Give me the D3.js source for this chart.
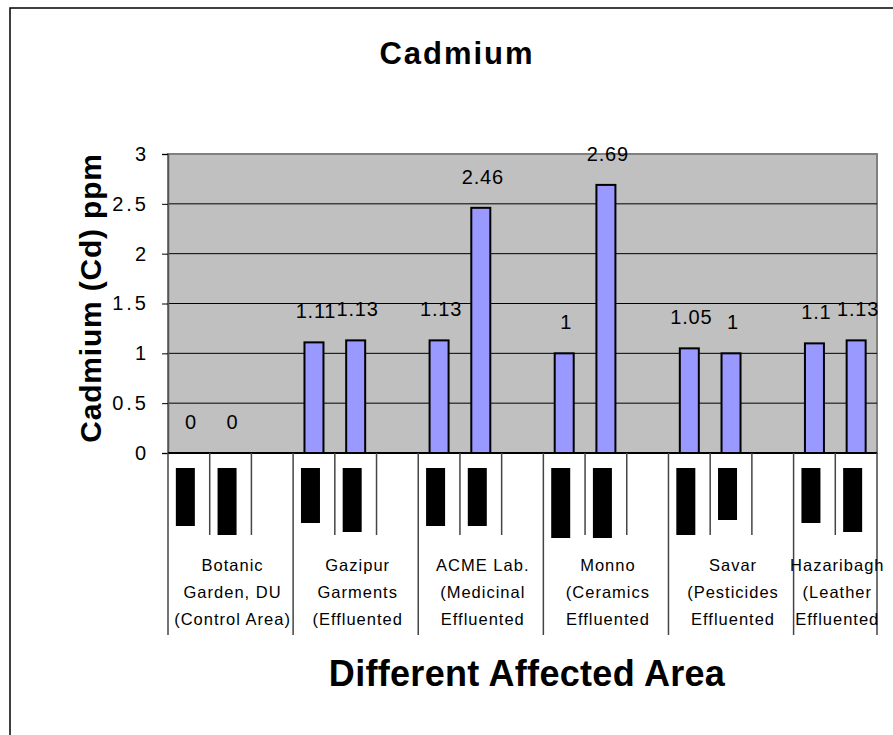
<!DOCTYPE html>
<html>
<head>
<meta charset="utf-8">
<script src="https://cdn.jsdelivr.net/npm/d3@7"></script>
<style>
  body { margin: 0; background: #fff; }
  text { font-family: Arial, "Liberation Sans", sans-serif; }
</style>
</head>
<body>
<script>
'use strict';
// cadmium chart, excel style with grouped category axis

// one slot per category position (the empty slot separates groups)
const slots = d3.range(17);
const values = [0, 0, null, 1.11, 1.13, null, 1.13, 2.46, null, 1, 2.69, null, 1.05, 1, null, 1.1, 1.13];
const groupLines = [
    ["Botanic", "Garden, DU", "(Control Area)"],
    ["Gazipur", "Garments", "(Effluented"],
    ["ACME Lab.", "(Medicinal", "Effluented"],
    ["Monno", "(Ceramics", "Effluented"],
    ["Savar", "(Pesticides", "Effluented"],
    ["Hazaribagh", "(Leather", "Effluented"]
];
const groupStart = [0, 3, 6, 9, 12, 15];
const groupEnd = [3, 6, 9, 12, 15, 17];
// inner labels show up as solid blocks; their lengths in px
const innerLabelLen = [58, 67, null, 55, 64, null, 58, 58, null, 70, 70, null, 67, 52, null, 55, 64];
const yTicks = [0, 0.5, 1, 1.5, 2, 2.5, 3];

window.onload = function() {
    let svg = d3.select('body')
        .append('svg')
        .attr('width', 893)
        .attr('height', 735);

    // outer chart border (runs past the window on right/bottom)
    svg.append('rect')
        .attr('x', 10).attr('y', 8)
        .attr('width', 1000).attr('height', 1000)
        .attr('fill', 'white')
        .attr('stroke', '#000')
        .attr('stroke-width', 1.5);

    let xScale = d3.scaleBand().domain(slots).range([168, 877]);
    let yScale = d3.scaleLinear().domain([0, 3]).range([453, 154]);
    let bw = xScale.bandwidth();

    // plot area
    svg.append('rect')
        .attr('x', 168).attr('y', yScale(3))
        .attr('width', 877 - 168).attr('height', yScale(0) - yScale(3))
        .attr('fill', '#c0c0c0')
        .attr('stroke', '#808080')
        .attr('stroke-width', 2);

    // gridlines
    svg.selectAll('.grid')
        .data(yTicks.filter(d => d > 0 && d < 3))
        .enter()
        .append('line')
        .attr('x1', 168).attr('x2', 877)
        .attr('y1', d => yScale(d)).attr('y2', d => yScale(d))
        .attr('stroke', '#000')
        .attr('stroke-width', 1);

    // y axis
    let yAxis = d3.axisLeft(yScale).tickValues(yTicks).tickSize(6).tickPadding(13)
        .tickFormat(d3.format('~g'));
    let gy = svg.append('g')
        .attr('transform', 'translate(168,0)')
        .call(yAxis);
    gy.select('.domain').attr('stroke', '#555').attr('stroke-width', 1.5);
    gy.selectAll('.tick line').attr('stroke', '#000');
    gy.selectAll('.tick text')
        .attr('fill', '#000')
        .style('font-size', '20px')
        .style('letter-spacing', '3px');

    // bars
    let barW = 19;
    svg.selectAll('.bar')
        .data(slots.filter(i => values[i] !== null))
        .enter()
        .append('rect')
        .attr('x', i => xScale(i) + bw / 2 - barW / 2)
        .attr('y', i => yScale(values[i]))
        .attr('width', barW)
        .attr('height', i => yScale(0) - yScale(values[i]))
        .attr('fill', '#9999ff')
        .attr('stroke', '#000')
        .attr('stroke-width', 2);

    // value labels
    svg.selectAll('.val')
        .data(slots.filter(i => values[i] !== null))
        .enter()
        .append('text')
        .attr('x', i => xScale(i) + bw / 2 + 2)
        .attr('y', i => yScale(values[i]) - 24)
        .attr('text-anchor', 'middle')
        .style('font-size', '20px')
        .style('letter-spacing', '0.8px')
        .text(i => values[i]);

    // x axis line
    svg.append('line')
        .attr('x1', 168).attr('x2', 877)
        .attr('y1', 453).attr('y2', 453)
        .attr('stroke', '#000').attr('stroke-width', 2);

    // inner ticks between slots
    svg.selectAll('.itick')
        .data(slots.slice(1).filter(i => groupStart.indexOf(i) < 0))
        .enter()
        .append('line')
        .attr('x1', i => xScale(i)).attr('x2', i => xScale(i))
        .attr('y1', 453).attr('y2', 535)
        .attr('stroke', '#444').attr('stroke-width', 1.5);

    // group boundaries
    let bounds = groupStart.concat([17]);
    svg.selectAll('.gtick')
        .data(bounds)
        .enter()
        .append('line')
        .attr('x1', i => i < 17 ? xScale(i) : 877).attr('x2', i => i < 17 ? xScale(i) : 877)
        .attr('y1', 453).attr('y2', 635)
        .attr('stroke', '#444').attr('stroke-width', 1.5);

    // inner labels (render as solid blocks)
    svg.selectAll('.inner')
        .data(slots.filter(i => innerLabelLen[i] !== null))
        .enter()
        .append('rect')
        .attr('x', i => xScale(i) + bw / 2 - 13)
        .attr('y', 468)
        .attr('width', 19)
        .attr('height', i => innerLabelLen[i])
        .attr('fill', '#000');

    // group labels
    groupLines.forEach((lines, g) => {
        let cx = (xScale(groupStart[g]) + (groupEnd[g] < 17 ? xScale(groupEnd[g]) : 877)) / 2;
        let t = svg.append('text')
            .attr('text-anchor', 'middle')
            .style('font-size', '16.5px')
            .style('letter-spacing', '1px');
        lines.forEach((l, k) => {
            t.append('tspan')
                .attr('x', cx + 2)
                .attr('y', 571 + k * 27)
                .text(l);
        });
    });

    // titles
    svg.append('text')
        .attr('x', 457).attr('y', 64)
        .attr('text-anchor', 'middle')
        .style('font-size', '31px').style('font-weight', 'bold')
        .style('letter-spacing', '2px')
        .text('Cadmium');

    svg.append('text')
        .attr('x', 527).attr('y', 686)
        .attr('text-anchor', 'middle')
        .style('font-size', '36px').style('font-weight', 'bold')
        .style('letter-spacing', '0.3px')
        .text('Different Affected Area');

    svg.append('text')
        .attr('transform', 'translate(101,298)rotate(-90)')
        .attr('text-anchor', 'middle')
        .style('font-size', '30px').style('font-weight', 'bold')
        .style('letter-spacing', '0.8px')
        .text('Cadmium (Cd) ppm');
};
</script>
</body>
</html>
